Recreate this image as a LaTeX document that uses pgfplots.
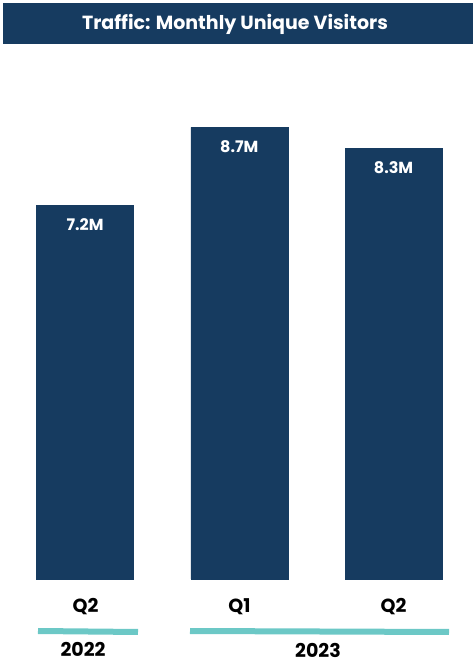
\documentclass[border=0pt]{standalone}
\usepackage{pgfplots}
\pgfplotsset{compat=1.18}
\usepackage{fontspec}
\setmainfont{Poppins}
\definecolor{navy}{HTML}{163B60}
\definecolor{teal}{HTML}{6CC8C6}
\begin{document}
\begin{tikzpicture}[x=1pt,y=1pt]
\path[use as bounding box] (0,0) rectangle (473,664);
% title banner
\fill[navy] (3,620) rectangle (473,661);
\node[text=white,font=\bfseries\fontsize{19}{22}\selectfont,anchor=base] at (235,634) {Traffic: Monthly Unique Visitors};
\begin{axis}[
  at={(7.9pt,85pt)}, anchor=south west,
  scale only axis, width=462.75pt, height=519pt,
  xmin=-0.5, xmax=2.5, ymin=0, ymax=10,
  axis lines=none,
  ybar, bar width=97pt,
  xtick=data, xticklabels={Q2,Q1,Q2},
  point meta=explicit symbolic,
  nodes near coords,
  every node near coord/.append style={anchor=north, yshift=-10pt, text=white, font=\bfseries\fontsize{16}{18}\selectfont},
  clip=false,
]
\addplot[fill=navy, draw=navy] coordinates {(0,7.2) [7.2M] (1,8.7) [8.7M] (2,8.3) [8.3M]};
\end{axis}
% category labels
\node[font=\bfseries\fontsize{19}{21}\selectfont,anchor=base] at (85.5,51) {Q2};
\node[font=\bfseries\fontsize{19}{21}\selectfont,anchor=base] at (239.5,51) {Q1};
\node[font=\bfseries\fontsize{19}{21}\selectfont,anchor=base] at (393.5,51) {Q2};
% group lines
\draw[teal, line width=6pt] (38,33) -- (138,32);
\draw[teal, line width=6pt] (190,33) -- (449,32);
\node[font=\bfseries\fontsize{19}{21}\selectfont,anchor=base,inner sep=1pt] at (83,7) {2022};
\node[font=\bfseries\fontsize{19}{21}\selectfont,anchor=base,inner sep=1pt] at (318,6) {2023};
\end{tikzpicture}
\end{document}
